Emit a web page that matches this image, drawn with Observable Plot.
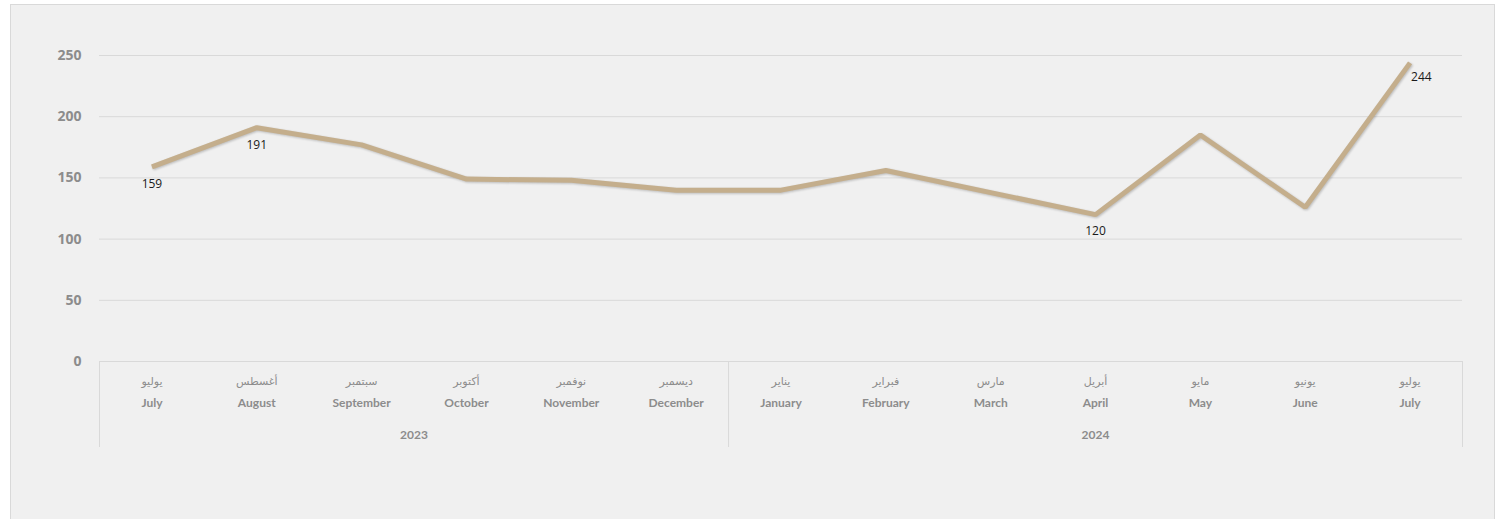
<!DOCTYPE html>
<html>
<head>
<meta charset="utf-8">
<script src="https://cdn.jsdelivr.net/npm/d3@7"></script>
<script src="https://cdn.jsdelivr.net/npm/@observablehq/plot@0.6"></script>
<style>
  html, body { margin: 0; padding: 0; background: #ffffff; overflow: hidden; }
  #panel { position: absolute; left: 10px; top: 4px; border: 1px solid #d9d9d9; background: #f0f0f0; width: 1483px; height: 520px; }
  #panel svg { display: block; }
</style>
</head>
<body>
<div id="panel"></div>
<script>
const monthsAr = ["يوليو","أغسطس","سبتمبر","أكتوبر","نوفمبر","ديسمبر","يناير","فبراير","مارس","أبريل","مايو","يونيو","يوليو"];
const monthsEn = ["July","August","September","October","November","December","January","February","March","April","May","June","July"];
const values = [159, 191, 177, 149, 148, 140, 140, 156, 138, 120, 185, 126, 244];
const labeledIdx = [0, 1, 9, 12];
const yearLabels = ["2023", "2024"];
const yearStart = [0, 6];
const yearEnd = [5, 12];
const yTicks = [0, 50, 100, 150, 200, 250];

const data = values.map((v, i) => ({i, v, ar: monthsAr[i], en: monthsEn[i]}));
const labeled = data.filter(d => labeledIdx.includes(d.i));
const lastIdx = values.length - 1;
const years = yearLabels.map((y, k) => ({y, c: (yearStart[k] + yearEnd[k]) / 2}));
const seps = Array.from(new Set(yearStart.map(s => s - 0.5).concat(yearEnd.map(e => e + 0.5))));

const grey = "#8c8c8c";
const chart = Plot.plot({
  width: 1483,
  height: 514,
  marginLeft: 88,
  marginRight: 32,
  marginTop: 50,
  marginBottom: 158,
  style: {background: "transparent", fontFamily: "Lato, 'Open Sans', sans-serif"},
  x: {type: "linear", domain: [-0.5, values.length - 0.5], axis: null},
  y: {domain: [0, 250], ticks: yTicks, label: null, tickSize: 0, tickPadding: 18},
  marks: [
    Plot.ruleY(yTicks, {stroke: "#d9d9d9", strokeWidth: 1}),
    Plot.ruleX(seps, {y1: 0, y2: 0, insetBottom: -86, stroke: "#d9d9d9", strokeWidth: 1}),
    Plot.axisY({ticks: yTicks, tickSize: 0, tickPadding: 18, fontSize: 14, fontWeight: "bold", fill: grey, label: null, fontFamily: "'Open Sans', sans-serif"}),
    Plot.lineY(data, {x: "i", y: "v", stroke: "#c4ae8c", strokeWidth: 5, strokeLinejoin: "miter", strokeLinecap: "butt"}),
    Plot.text(labeled.filter(d => d.i !== lastIdx), {x: "i", y: "v", text: d => String(d.v), dy: 17, fontSize: 12, fill: "#1a1a1a", fontFamily: "'Open Sans', sans-serif"}),
    Plot.text(labeled.filter(d => d.i === lastIdx), {x: "i", y: "v", text: d => String(d.v), dy: 14, dx: 1, textAnchor: "start", fontSize: 12, fill: "#1a1a1a", fontFamily: "'Open Sans', sans-serif"}),
    Plot.text(data, {x: "i", text: "ar", frameAnchor: "bottom", dy: 23, fontSize: 11, fill: grey, fontFamily: "'DejaVu Sans', sans-serif"}),
    Plot.text(data, {x: "i", text: "en", frameAnchor: "bottom", dy: 45, fontSize: 12, fontWeight: "bold", fill: grey}),
    Plot.text(years, {x: "c", text: "y", frameAnchor: "bottom", dy: 77, fontSize: 12, fontWeight: "bold", fill: grey})
  ]
});
d3.select(chart).selectAll('g[aria-label="line"] path').style("filter", "drop-shadow(1px 1.5px 1px rgba(0,0,0,0.22))");
document.getElementById("panel").appendChild(chart);
</script>
</body>
</html>
